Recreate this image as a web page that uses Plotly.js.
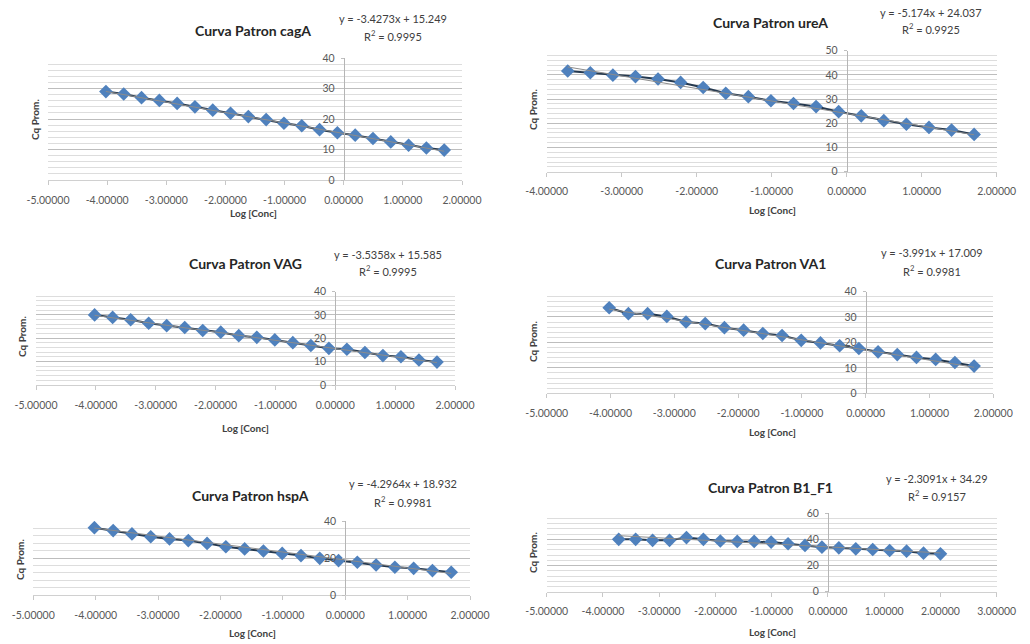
<!DOCTYPE html>
<html><head><meta charset="utf-8">
<script src="https://cdn.plot.ly/plotly-3.0.1.min.js"></script>
<style>html,body{margin:0;padding:0;background:#fff}#chart{width:1030px;height:644px}</style>
</head><body><div id="chart"></div>
<script>
// ---------- DATA ----------
const titles = ['Curva Patron cagA','Curva Patron ureA','Curva Patron VAG','Curva Patron VA1','Curva Patron hspA','Curva Patron B1_F1'];
const eqTexts = ['y = -3.4273x + 15.249','y = -5.174x + 24.037','y = -3.5358x + 15.585','y = -3.991x + 17.009','y = -4.2964x + 18.932','y = -2.3091x + 34.29'];
const r2Texts = ['0.9995','0.9925','0.9995','0.9981','0.9981','0.9157'];
const slopes = [-3.4273, -5.174, -3.5358, -3.991, -4.2964, -2.3091];
const intercepts = [15.249, 24.037, 15.585, 17.009, 18.932, 34.29];

const x_cagA = [-4.02060,-3.71957,-3.41854,-3.11751,-2.81648,-2.51545,-2.21442,-1.91339,-1.61236,-1.31133,-1.01030,-0.70927,-0.40824,-0.10721,0.19382,0.49485,0.79588,1.09691,1.39794,1.69897];
const cq_cagA = [29.0,28.2,27.0,26.1,25.1,24.0,22.9,21.9,20.8,19.8,18.6,17.8,16.5,15.5,14.7,13.6,12.5,11.4,10.5,9.8];

const x_ureA = [-3.71957,-3.41854,-3.11751,-2.81648,-2.51545,-2.21442,-1.91339,-1.61236,-1.31133,-1.01030,-0.70927,-0.40824,-0.10721,0.19382,0.49485,0.79588,1.09691,1.39794,1.69897];
const cq_ureA = [41.6,40.9,39.9,39.3,38.3,36.9,34.8,32.4,31.0,29.3,28.2,26.9,24.8,23.1,21.1,19.6,18.3,17.2,15.4];

const x_VAG = [-4.02060,-3.71957,-3.41854,-3.11751,-2.81648,-2.51545,-2.21442,-1.91339,-1.61236,-1.31133,-1.01030,-0.70927,-0.40824,-0.10721,0.19382,0.49485,0.79588,1.09691,1.39794,1.69897];
const cq_VAG = [30.0,28.9,27.9,26.4,25.4,24.6,23.3,22.6,21.1,20.4,19.3,18.1,16.9,15.7,15.3,13.9,12.6,12.1,10.7,9.8];

const x_VA1 = [-4.02060,-3.71957,-3.41854,-3.11751,-2.81648,-2.51545,-2.21442,-1.91339,-1.61236,-1.31133,-1.01030,-0.70927,-0.40824,-0.10721,0.19382,0.49485,0.79588,1.09691,1.39794,1.69897];
const cq_VA1 = [33.6,31.3,31.3,30.2,28.0,27.4,25.8,24.8,23.5,22.7,20.8,19.8,18.7,17.6,16.3,15.2,14.1,13.3,12.1,10.7];

const x_hspA = [-4.02060,-3.71957,-3.41854,-3.11751,-2.81648,-2.51545,-2.21442,-1.91339,-1.61236,-1.31133,-1.01030,-0.70927,-0.40824,-0.10721,0.19382,0.49485,0.79588,1.09691,1.39794,1.69897];
const cq_hspA = [36.4,34.8,33.0,31.5,30.3,29.4,27.9,26.1,24.9,23.8,22.5,21.3,19.8,18.6,17.7,16.2,15.0,14.4,13.2,12.3];

const x_B1F1 = [-3.71957,-3.41854,-3.11751,-2.81648,-2.51545,-2.21442,-1.91339,-1.61236,-1.31133,-1.01030,-0.70927,-0.40824,-0.10721,0.19382,0.49485,0.79588,1.09691,1.39794,1.69897,2.00000];
const cq_B1F1 = [40.1,40.1,39.3,39.3,41.4,40.1,38.8,38.5,38.5,38.0,36.7,35.4,34.1,33.6,32.8,32.3,31.5,31.0,29.5,29.0];

const xTicks7 = [-5,-4,-3,-2,-1,0,1,2];
const xTickText7 = ['-5.00000','-4.00000','-3.00000','-2.00000','-1.00000','0.00000','1.00000','2.00000'];
const xTicks6 = [-4,-3,-2,-1,0,1,2];
const xTickText6 = ['-4.00000','-3.00000','-2.00000','-1.00000','0.00000','1.00000','2.00000'];
const xTicks8 = [-5,-4,-3,-2,-1,0,1,2,3];
const xTickText8 = ['-5.00000','-4.00000','-3.00000','-2.00000','-1.00000','0.00000','1.00000','2.00000','3.00000'];

const xData = [x_cagA, x_ureA, x_VAG, x_VA1, x_hspA, x_B1F1];
const yData = [cq_cagA, cq_ureA, cq_VAG, cq_VA1, cq_hspA, cq_B1F1];
const tickVals = [xTicks7, xTicks6, xTicks7, xTicks7, xTicks7, xTicks8];
const tickTexts = [xTickText7, xTickText6, xTickText7, xTickText7, xTickText7, xTickText8];

// ---------- GEOMETRY (pixels) ----------
const W = 1030, H = 644;
const geo = [
  {l:48, r:462, t:58, b:180, xr:[-5,2], yr:[0,40], maj:10, min:2, title:[253,30], eq:[393,18,35], xt:[253,213], yt:[35,120]},
  {l:546.7, r:996.7, t:50.7, b:171.7, xr:[-4,2], yr:[0,50], maj:10, min:2, title:[770,23], eq:[931,12,29], xt:[772,210], yt:[533,110]},
  {l:36, r:455, t:291.5, b:385, xr:[-5,2], yr:[0,40], maj:10, min:2, title:[245,263], eq:[388,254,270], xt:[245,428], yt:[22,337]},
  {l:546.7, r:993.3, t:291.5, b:393.3, xr:[-5,2], yr:[0,40], maj:10, min:2, title:[770,263], eq:[932,253,270], xt:[772,432], yt:[533,342]},
  {l:33.3, r:470, t:521, b:595, xr:[-5,2], yr:[0,40], maj:20, min:4, title:[250,495], eq:[403,483,501], xt:[252,633], yt:[20,560]},
  {l:546.7, r:996.7, t:513.3, b:591.7, xr:[-5,3], yr:[0,60], maj:20, min:4, title:[770,487], eq:[937,478,495], xt:[772,632], yt:[533,553]}
];

const FONT = 'Lato, "Open Sans", "Liberation Sans", sans-serif';
const traces = [];
const layout = {
  width: W, height: H, margin:{l:0,r:0,t:0,b:0},
  paper_bgcolor:'#ffffff', plot_bgcolor:'rgba(0,0,0,0)',
  showlegend:false, font:{family:FONT, size:10, color:'#595959'},
  annotations: []
};
const px = v => v / W, py = v => 1 - v / H;

geo.forEach((g, i) => {
  const n = i + 1;
  const xa = 'x' + n, ya = 'y' + n;
  const xk = 'xaxis' + n, yk = 'yaxis' + n;
  traces.push({
    type:'scatter', mode:'lines+markers', x:xData[i], y:yData[i], xaxis:xa, yaxis:ya,
    line:{color:'#25394f', width:2},
    marker:{symbol:'diamond', size:10.5, color:'#4f81bd', line:{width:0}},
    hoverinfo:'skip'
  });
  const xs = xData[i];
  const x0 = xs[0], x1 = xs[xs.length-1];
  traces.push({
    type:'scatter', mode:'lines', x:[x0, x1],
    y:[slopes[i]*x0 + intercepts[i], slopes[i]*x1 + intercepts[i]],
    xaxis:xa, yaxis:ya, line:{color:'#8c8c8c', width:1}, hoverinfo:'skip'
  });
  const zeroPx = g.l + (0 - g.xr[0]) / (g.xr[1] - g.xr[0]) * (g.r - g.l);
  layout[xk] = {
    domain:[px(g.l), px(g.r)], range:g.xr, anchor:ya,
    tickmode:'array', tickvals:tickVals[i], ticktext:tickTexts[i],
    showgrid:false, zeroline:false, showline:true, linecolor:'#d0d0d0', linewidth:1,
    ticks:'outside', ticklen:4, tickcolor:'#c8c8c8', ticklabelstandoff:6,
    tickfont:{size:10.5, color:'#595959', family:FONT}, fixedrange:true
  };
  layout[yk] = {
    domain:[py(g.b), py(g.t)], range:g.yr, anchor:'free', position:px(zeroPx),
    dtick:g.maj, tick0:0, showgrid:true, gridcolor:'#bdbdbd', gridwidth:1,
    minor:{dtick:g.min, tick0:0, showgrid:true, gridcolor:'#dddddd', gridwidth:1},
    zeroline:false, showline:true, linecolor:'#b5b5b5', linewidth:1,
    ticks:'outside', ticklen:3, tickcolor:'#bfbfbf', ticklabelstandoff:4,
    tickfont:{size:10.5, color:'#595959', family:FONT}, fixedrange:true
  };
  const ann = layout.annotations;
  ann.push({xref:'paper', yref:'paper', x:px(g.title[0]), y:py(g.title[1]), xanchor:'center', yanchor:'middle',
    text:'<b>' + titles[i] + '</b>', showarrow:false, font:{family:FONT, size:14, color:'#262626'}});
  ann.push({xref:'paper', yref:'paper', x:px(g.eq[0]), y:py(g.eq[1]), xanchor:'center', yanchor:'middle',
    text:eqTexts[i], showarrow:false, font:{family:FONT, size:11, color:'#404040'}});
  ann.push({xref:'paper', yref:'paper', x:px(g.eq[0]), y:py(g.eq[2]), xanchor:'center', yanchor:'middle',
    text:'R<sup>2</sup> = ' + r2Texts[i], showarrow:false, font:{family:FONT, size:11, color:'#404040'}});
  ann.push({xref:'paper', yref:'paper', x:px(g.xt[0]), y:py(g.xt[1]), xanchor:'center', yanchor:'middle',
    text:'<b>Log [Conc]</b>', showarrow:false, font:{family:FONT, size:10, color:'#404040'}});
  ann.push({xref:'paper', yref:'paper', x:px(g.yt[0]), y:py(g.yt[1]), xanchor:'center', yanchor:'middle',
    text:'<b>Cq Prom.</b>', textangle:-90, showarrow:false, font:{family:FONT, size:10, color:'#404040'}});
});

Plotly.newPlot('chart', traces, layout, {displayModeBar:false, staticPlot:true});
</script>
</body></html>
